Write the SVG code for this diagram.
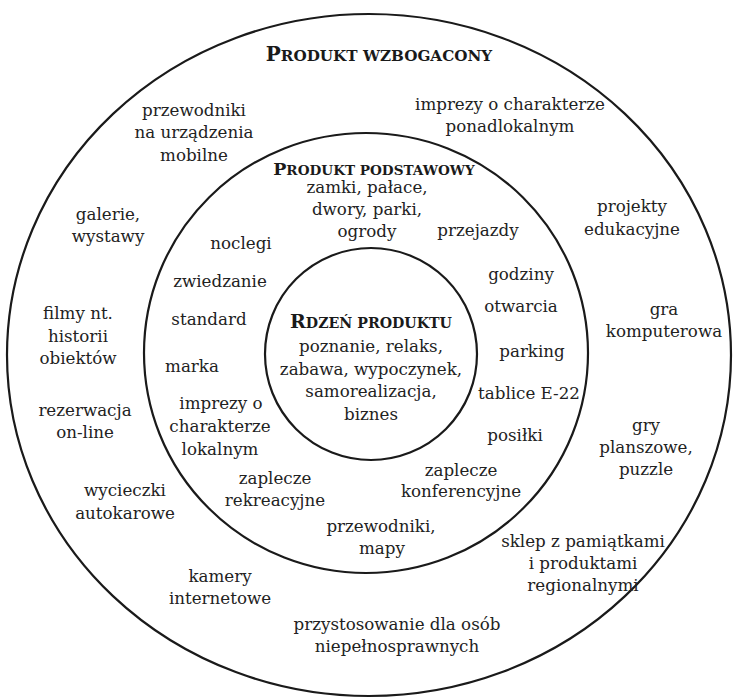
<svg xmlns="http://www.w3.org/2000/svg" width="734" height="698" viewBox="0 0 734 698">
<style>
.ring{fill:none;stroke:#1a1a1a;stroke-width:2.2}
text{font-family:"DejaVu Serif","Liberation Serif",serif;font-size:16.7px;fill:#222;text-anchor:middle}
.h{font-weight:bold;fill:#1a1a1a}
</style>
<rect width="734" height="698" fill="#fff"/>
<g id="rings">
<ellipse class="ring" cx="369" cy="355" rx="362" ry="341"/>
<ellipse class="ring" cx="366" cy="353" rx="222" ry="220"/>
<circle class="ring" cx="371" cy="354" r="106"/>
</g>
<g id="produkt-wzbogacony">
<text class="h" x="379" y="61"><tspan font-size="20">P</tspan><tspan font-size="15.2">RODUKT WZBOGACONY</tspan></text>
<text x="194" y="116">przewodniki</text>
<text x="194" y="138">na urządzenia</text>
<text x="194" y="161">mobilne</text>
<text x="510" y="110">imprezy o charakterze</text>
<text x="510" y="132">ponadlokalnym</text>
<text x="108" y="220">galerie,</text>
<text x="108" y="242">wystawy</text>
<text x="632" y="212">projekty</text>
<text x="632" y="235">edukacyjne</text>
<text x="78" y="319">filmy nt.</text>
<text x="78" y="342">historii</text>
<text x="78" y="364">obiektów</text>
<text x="664" y="315">gra</text>
<text x="664" y="337">komputerowa</text>
<text x="85" y="416">rezerwacja</text>
<text x="85" y="438">on-line</text>
<text x="646" y="431">gry</text>
<text x="646" y="453">planszowe,</text>
<text x="646" y="475">puzzle</text>
<text x="125" y="496">wycieczki</text>
<text x="125" y="519">autokarowe</text>
<text x="583" y="547">sklep z pamiątkami</text>
<text x="583" y="569">i produktami</text>
<text x="583" y="591">regionalnymi</text>
<text x="220" y="582">kamery</text>
<text x="220" y="604">internetowe</text>
<text x="397" y="630">przystosowanie dla osób</text>
<text x="397" y="652">niepełnosprawnych</text>
</g>
<g id="produkt-podstawowy">
<text class="h" x="374" y="175"><tspan font-size="17.5">P</tspan><tspan font-size="13.6">RODUKT PODSTAWOWY</tspan></text>
<text x="367" y="193">zamki, pałace,</text>
<text x="367" y="215">dwory, parki,</text>
<text x="367" y="237">ogrody</text>
<text x="478" y="236">przejazdy</text>
<text x="241" y="249">noclegi</text>
<text x="220" y="287">zwiedzanie</text>
<text x="209" y="325">standard</text>
<text x="192" y="372">marka</text>
<text x="221" y="409">imprezy o</text>
<text x="220" y="432">charakterze</text>
<text x="220" y="455">lokalnym</text>
<text x="521" y="280">godziny</text>
<text x="521" y="312">otwarcia</text>
<text x="532" y="357">parking</text>
<text x="529" y="399">tablice E-22</text>
<text x="515" y="441">posiłki</text>
<text x="461" y="476">zaplecze</text>
<text x="461" y="497">konferencyjne</text>
<text x="275" y="484">zaplecze</text>
<text x="275" y="506">rekreacyjne</text>
<text x="381" y="532">przewodniki,</text>
<text x="382" y="554">mapy</text>
</g>
<g id="rdzen-produktu">
<text class="h" x="371" y="328"><tspan font-size="19">R</tspan><tspan font-size="14.2">DZEŃ PRODUKTU</tspan></text>
<text x="371" y="352">poznanie, relaks,</text>
<text x="371" y="375">zabawa, wypoczynek,</text>
<text x="371" y="397">samorealizacja,</text>
<text x="371" y="420">biznes</text>
</g>
</svg>
